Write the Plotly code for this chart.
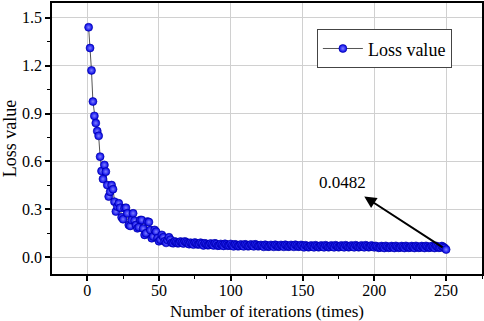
import plotly.graph_objects as go

iterations = list(range(1, 251))
loss_early = [1.44, 1.31, 1.17, 0.975, 0.885, 0.84, 0.79, 0.76, 0.63, 0.54,
              0.49, 0.578, 0.536, 0.452, 0.38, 0.41, 0.452, 0.426, 0.348, 0.286,
              0.317, 0.338, 0.31, 0.25, 0.238, 0.307, 0.31, 0.275, 0.202, 0.196,
              0.233, 0.275, 0.229, 0.202, 0.181, 0.188, 0.233, 0.233, 0.18, 0.14,
              0.15, 0.223, 0.22, 0.17, 0.119, 0.13, 0.171, 0.16, 0.12, 0.10,
              0.11, 0.14, 0.125, 0.10, 0.09, 0.108, 0.125, 0.11, 0.09, 0.088]
loss_late_milli = [99, 94, 87, 89, 98, 92, 86, 99, 94, 87,
                   82, 91, 85, 79, 92, 87, 80, 82, 91, 85,
                   74, 87, 82, 75, 77, 86, 80, 74, 87, 82,
                   72, 74, 83, 77, 71, 84, 79, 72, 74, 83,
                   74, 68, 81, 76, 69, 71, 80, 74, 68, 81,
                   76, 69, 71, 80, 74, 68, 81, 76, 69, 71,
                   77, 71, 65, 78, 73, 66, 68, 77, 71, 65,
                   78, 73, 66, 68, 77, 71, 65, 78, 73, 66,
                   68, 77, 71, 65, 78, 73, 66, 68, 77, 71,
                   62, 75, 70, 63, 65, 74, 68, 62, 75, 70,
                   63, 65, 74, 68, 62, 75, 70, 63, 65, 74,
                   68, 62, 75, 70, 63, 65, 74, 68, 62, 75,
                   70, 63, 65, 74, 68, 62, 75, 70, 63, 65,
                   74, 68, 62, 75, 70, 63, 65, 74, 68, 62,
                   71, 66, 59, 61, 70, 64, 58, 71, 66, 59,
                   61, 70, 64, 58, 71, 66, 59, 61, 70, 64,
                   58, 71, 66, 59, 61, 70, 64, 58, 71, 66,
                   59, 61, 70, 64, 58, 71, 66, 59, 61, 70,
                   64, 58, 71, 66, 59, 61, 70, 64, 58, 48.2]
loss = loss_early + [v / 1000 for v in loss_late_milli]

x_ticks = [0, 50, 100, 150, 200, 250]
y_ticks = [0.0, 0.3, 0.6, 0.9, 1.2, 1.5]
y_tick_text = ["0.0", "0.3", "0.6", "0.9", "1.2", "1.5"]
final_label = "0.0482"

FONT = "Liberation Serif, Times New Roman, serif"

fig = go.Figure()
fig.add_trace(go.Scatter(
    x=iterations, y=loss, mode="lines+markers", name="Loss value",
    line=dict(color="#555555", width=1),
    marker=dict(size=8, color="#0000e8",
                gradient=dict(type="radial", color="#8080ff"),
                line=dict(color="#0000a0", width=0.6)),
))

fig.add_annotation(x=193, y=0.38, ax=248.6, ay=0.056, xref="x", yref="y",
                   axref="x", ayref="y", text="", showarrow=True,
                   arrowhead=2, arrowsize=1.2, arrowwidth=2, arrowcolor="black")
fig.add_annotation(x=177.8, y=0.467, xref="x", yref="y", text=final_label,
                   showarrow=False, font=dict(family=FONT, size=17, color="black"))

axis_common = dict(
    showline=True, linecolor="black", linewidth=1.5, mirror=True,
    ticks="outside", ticklen=5, tickwidth=1.5, tickcolor="black",
    showgrid=True, gridcolor="#d0d0d0", gridwidth=1, zeroline=False,
    automargin=False,
    tickfont=dict(family=FONT, size=16, color="black"),
)

fig.update_xaxes(range=[-24.5, 275], tickvals=x_ticks, ticklabelstandoff=-4,
                 minor=dict(ticks="outside", ticklen=3, tickwidth=1.2,
                            tickcolor="black", dtick=25, tick0=0, showgrid=False),
                 title=dict(text="Number of iterations (times)", standoff=7,
                            font=dict(family=FONT, size=17, color="black")),
                 **axis_common)
fig.update_yaxes(range=[-0.105, 1.592], tickvals=y_ticks, ticktext=y_tick_text,
                 minor=dict(ticks="outside", ticklen=3, tickwidth=1.2,
                            tickcolor="black", dtick=0.15, tick0=0, showgrid=False),
                 title=dict(text="Loss value", standoff=2,
                            font=dict(family=FONT, size=18, color="black")),
                 **axis_common)

fig.update_layout(
    width=484, height=321,
    margin=dict(l=52, r=2, t=3, b=47),
    paper_bgcolor="white", plot_bgcolor="white",
    showlegend=True,
    legend=dict(x=0.616, y=0.903, xanchor="left", yanchor="top",
                bgcolor="white", bordercolor="#444444", borderwidth=1,
                font=dict(family=FONT, size=18, color="black"),
                tracegroupgap=0, itemwidth=40),
)

fig.write_html("out.html", config={"displayModeBar": False},
               post_script="document.body.style.margin='0';document.body.style.overflow='hidden';")
